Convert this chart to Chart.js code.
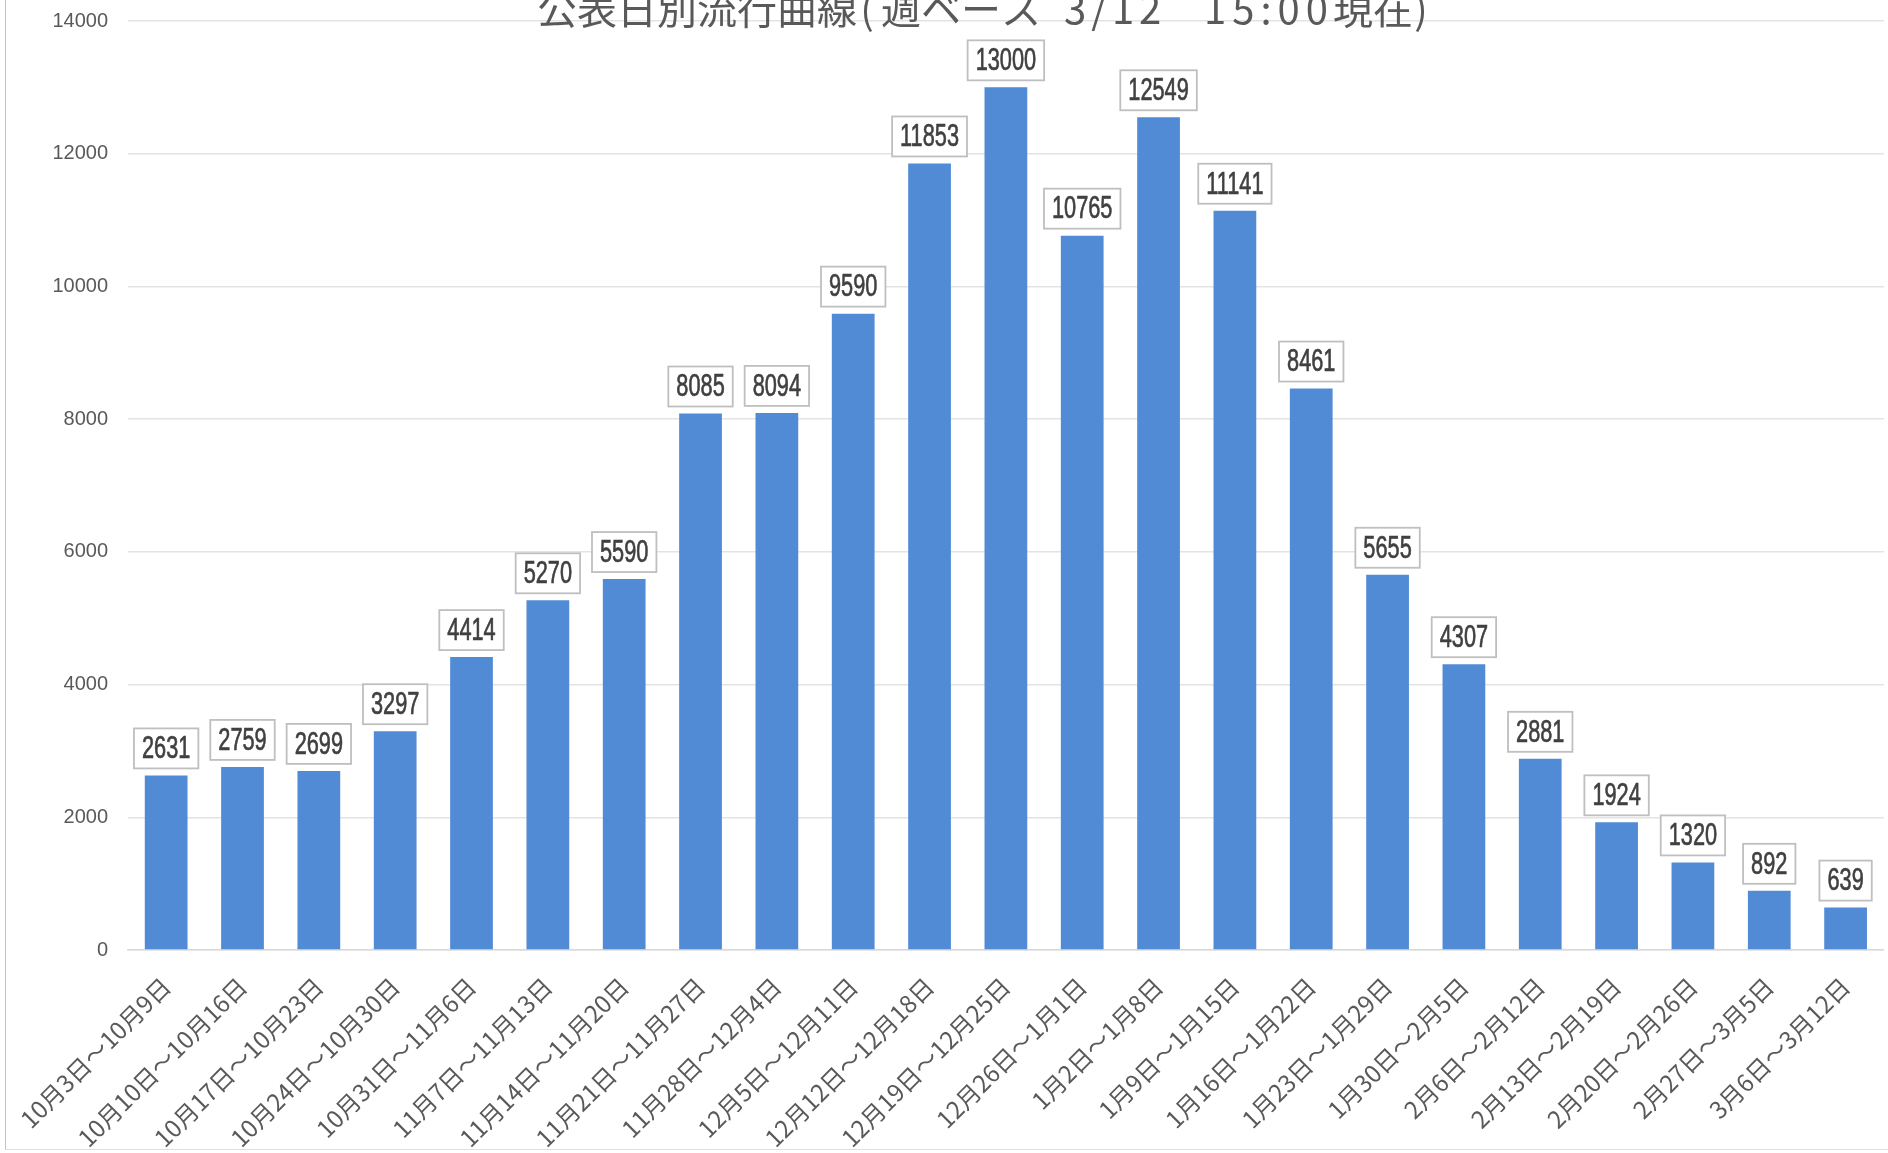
<!DOCTYPE html>
<html><head><meta charset="utf-8">
<script src="https://cdn.jsdelivr.net/npm/chart.js@4/dist/chart.umd.min.js"></script>
<style>
html,body{margin:0;padding:0;background:#fff;overflow:hidden;}
#wrap{position:relative;width:1888px;height:1153px;}
#frame{position:absolute;left:5px;top:-3px;width:1890px;height:1152px;border-left:1.5px solid #c4c4c4;border-bottom:1.5px solid #e0e0e0;pointer-events:none;}
</style></head><body>
<div id="wrap"><canvas id="c" width="1888" height="1153"></canvas><div id="frame"></div></div>
<script>
const titleParts = ['公表日別流行曲線', '(', '週ベース', '3/12', '15:00', '現在', ')'];
const categories = [
  '10月3日～10月9日','10月10日～10月16日','10月17日～10月23日','10月24日～10月30日',
  '10月31日～11月6日','11月7日～11月13日','11月14日～11月20日','11月21日～11月27日',
  '11月28日～12月4日','12月5日～12月11日','12月12日～12月18日','12月19日～12月25日',
  '12月26日～1月1日','1月2日～1月8日','1月9日～1月15日','1月16日～1月22日',
  '1月23日～1月29日','1月30日～2月5日','2月6日～2月12日','2月13日～2月19日',
  '2月20日～2月26日','2月27日～3月5日','3月6日～3月12日'
];
const cases = [2631,2759,2699,3297,4414,5270,5590,8085,8094,9590,11853,13000,10765,12549,11141,8461,5655,4307,2881,1924,1320,892,639];
const yMin = 0, yMax = 14000, yStep = 2000;

const titlePlugin = {
  id: 'titlePlugin',
  afterDraw(chart) {
    const ctx = chart.ctx;
    ctx.save();
    ctx.fillStyle = '#595959';
    ctx.textBaseline = 'middle';
    const y = 9;
    const cjk = '40px "Noto Sans CJK JP"';
    const num = '40px "Noto Sans CJK JP"';
    // [text, x, align, letterSpacing, font]
    const layout = [
      [titleParts[0], 537, 'left', 0, cjk],
      [titleParts[1], 867, 'center', 0, cjk],
      [titleParts[2], 881, 'left', 0, cjk],
      [titleParts[3], 1064, 'left', 5, num],
      [titleParts[4], 1204, 'left', 6, num],
      [titleParts[5], 1333, 'left', 0, cjk],
      [titleParts[6], 1421, 'center', 0, cjk]
    ];
    layout.forEach(([t, x, a, ls, f]) => {
      ctx.font = f;
      ctx.textAlign = a;
      ctx.letterSpacing = ls + 'px';
      ctx.fillText(t, x, y);
    });
    ctx.restore();
  }
};

const labelPlugin = {
  id: 'labelPlugin',
  afterDatasetsDraw(chart) {
    const ctx = chart.ctx;
    const meta = chart.getDatasetMeta(0);
    meta.data.forEach((bar, i) => {
      const txt = String(chart.data.datasets[0].data[i]);
      ctx.save();
      ctx.font = '32px "Liberation Sans"';
      const sx = 0.68;
      const tw = ctx.measureText(txt).width * sx;
      const bw = tw + 16, bh = 40;
      const bottom = bar.y - 7;
      const top = bottom - bh;
      ctx.fillStyle = '#ffffff';
      ctx.fillRect(bar.x - bw / 2, top, bw, bh);
      ctx.strokeStyle = '#bfbfbf';
      ctx.lineWidth = 1.8;
      ctx.strokeRect(bar.x - bw / 2, top, bw, bh);
      ctx.translate(bar.x, top + bh / 2 + 1);
      ctx.scale(sx, 1);
      ctx.fillStyle = '#404040';
      ctx.strokeStyle = '#404040';
      ctx.lineWidth = 0.7;
      ctx.textAlign = 'center';
      ctx.textBaseline = 'middle';
      ctx.fillText(txt, 0, 0);
      ctx.strokeText(txt, 0, 0);
      ctx.restore();
    });
  }
};

new Chart(document.getElementById('c'), {
  type: 'bar',
  data: {
    labels: categories,
    datasets: [{
      data: cases,
      backgroundColor: '#528bd5',
      borderWidth: 0,
      barPercentage: 0.56,
      categoryPercentage: 1
    }]
  },
  options: {
    responsive: false,
    animation: false,
    layout: { padding: { top: 21, right: 2, bottom: 0, left: 0 } },
    plugins: { legend: { display: false }, tooltip: { enabled: false }, title: { display: false } },
    scales: {
      x: {
        grid: { display: false, drawTicks: false },
        border: { display: true, color: '#d9d9d9', width: 1.5 },
        ticks: {
          color: '#595959',
          font: { family: '"Noto Sans CJK JP"', size: 24 },
          minRotation: 45, maxRotation: 45, autoSkip: false, padding: 22
        },
        afterFit(s) { s.height = 203; }
      },
      y: {
        min: yMin, max: yMax,
        grid: { color: '#e3e3e3', lineWidth: 1.5, drawTicks: true, tickLength: 20, tickColor: 'rgba(0,0,0,0)' },
        border: { display: false },
        ticks: {
          stepSize: yStep,
          color: '#595959',
          font: { family: '"Liberation Sans"', size: 20 },
          padding: 0,
          callback: (v) => String(v)
        },
        afterFit(s) { s.width = 128; }
      }
    }
  },
  plugins: [labelPlugin, titlePlugin]
});
</script>
</body></html>
